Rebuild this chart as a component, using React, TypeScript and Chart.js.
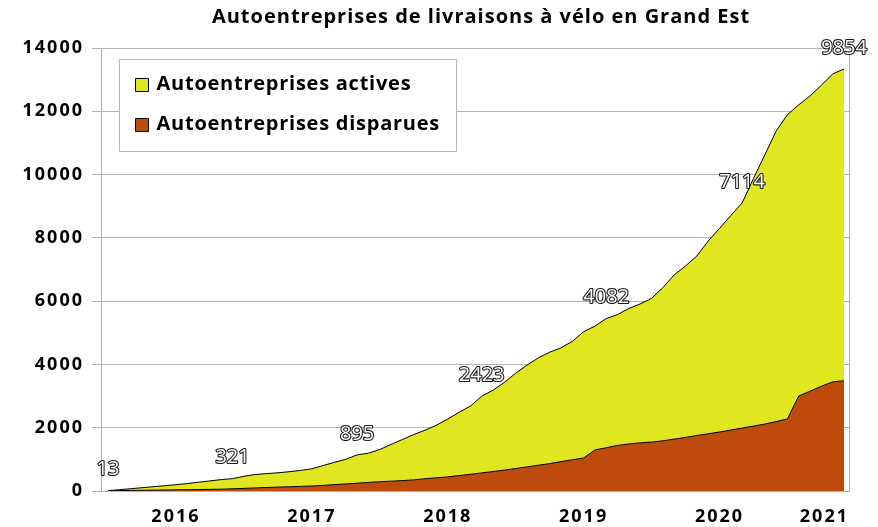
import React, { useEffect, useRef } from 'react';
import { Chart, registerables } from 'chart.js';

Chart.register(...registerables);

const chartTitle = 'Autoentreprises de livraisons à vélo en Grand Est';
const seriesActives = 'Autoentreprises actives';
const seriesDisparues = 'Autoentreprises disparues';

const months = [
  '2015-07', '2015-08', '2015-09', '2015-10', '2015-11', '2015-12',
  '2016-01', '2016-02', '2016-03', '2016-04', '2016-05', '2016-06', '2016-07', '2016-08', '2016-09', '2016-10', '2016-11', '2016-12',
  '2017-01', '2017-02', '2017-03', '2017-04', '2017-05', '2017-06', '2017-07', '2017-08', '2017-09', '2017-10', '2017-11', '2017-12',
  '2018-01', '2018-02', '2018-03', '2018-04', '2018-05', '2018-06', '2018-07', '2018-08', '2018-09', '2018-10', '2018-11', '2018-12',
  '2019-01', '2019-02', '2019-03', '2019-04', '2019-05', '2019-06', '2019-07', '2019-08', '2019-09', '2019-10', '2019-11', '2019-12',
  '2020-01', '2020-02', '2020-03', '2020-04', '2020-05', '2020-06', '2020-07', '2020-08', '2020-09', '2020-10', '2020-11', '2020-12',
];

const disparues = [
  0, 13, 19, 22, 28, 32,
  38, 41, 44, 51, 57, 70, 82, 98, 111, 123, 133, 145,
  158, 177, 202, 224, 246, 272, 294, 310, 329, 351, 389, 417,
  446, 487, 528, 572, 616, 660, 711, 762, 815, 866, 929, 986,
  1043, 1296, 1368, 1441, 1488, 1523, 1545, 1586, 1640, 1694, 1754, 1808,
  1864, 1928, 1988, 2051, 2117, 2193, 2275, 3002, 3154, 3312, 3448, 3485,
];

const actives = [
  13, 28, 54, 82, 108, 135,
  161, 196, 234, 268, 303, 321, 383, 423, 439, 452, 477, 506,
  544, 629, 705, 778, 895, 922, 1017, 1163, 1298, 1434, 1532, 1662,
  1826, 2000, 2155, 2423, 2569, 2772, 3011, 3216, 3391, 3520, 3596, 3741,
  3991, 3915, 4082, 4136, 4282, 4389, 4541, 4841, 5189, 5416, 5672, 6092,
  6431, 6778, 7114, 7824, 8501, 9180, 9616, 9202, 9331, 9511, 9732, 9854,
];

const yearLabels = ['2016', '2017', '2018', '2019', '2020', '2021'];
const labelledMonths = ['2015-07', '2016-06', '2017-05', '2018-04', '2019-03', '2020-03', '2020-12'];

const yTicks = [0, 2000, 4000, 6000, 8000, 10000, 12000, 14000];

const YELLOW = '#e0e620';
const ORANGE = '#be4a0b';
const GRID = '#b3b3b3';
const FONT = '"Open Sans", "Noto Sans", sans-serif';

const X_MIN = -0.62;
const X_MAX = 65.44;

export default function App() {
  const ref = useRef<HTMLCanvasElement>(null);

  useEffect(() => {
    const canvas = ref.current;
    if (!canvas) return;

    const xTickLabels = ['', ...yearLabels];

    const overlay = {
      id: 'overlay',
      beforeDraw(chart: any) {
        (chart.ctx as any).letterSpacing = '2px';
      },
      afterDraw(chart: any) {
        const ctx = chart.ctx as any;
        const area = chart.chartArea;
        ctx.save();

        // title
        ctx.letterSpacing = '1px';
        ctx.font = `bold 20px ${FONT}`;
        ctx.fillStyle = '#000';
        ctx.textAlign = 'center';
        ctx.textBaseline = 'middle';
        ctx.fillText(chartTitle, (area.left + area.right) / 2 + 6, 17);

        // value labels (actives)
        ctx.letterSpacing = '0px';
        const meta = chart.getDatasetMeta(1);
        ctx.font = `20px ${FONT}`;
        ctx.lineJoin = 'round';
        labelledMonths.forEach((m) => {
          const i = months.indexOf(m);
          const pt = meta.data[i];
          if (!pt) return;
          const txt = String(actives[i]);
          const x = pt.x;
          const y = pt.y - 21;
          ctx.lineWidth = 2.2;
          ctx.strokeStyle = '#1a1a1a';
          ctx.strokeText(txt, x, y);
          ctx.fillStyle = '#ffffff';
          ctx.fillText(txt, x, y);
        });

        // legend
        const bx = Math.round(area.left + 18) + 0.5;
        const by = Math.round(area.top + 11) + 0.5;
        const bw = 337;
        const bh = 92;
        ctx.fillStyle = '#ffffff';
        ctx.fillRect(bx, by, bw, bh);
        ctx.strokeStyle = GRID;
        ctx.lineWidth = 1;
        ctx.strokeRect(bx, by, bw, bh);

        const items = [
          { label: seriesActives, color: YELLOW },
          { label: seriesDisparues, color: ORANGE },
        ];
        ctx.letterSpacing = '0.75px';
        ctx.font = `bold 20px ${FONT}`;
        ctx.textAlign = 'left';
        ctx.textBaseline = 'middle';
        items.forEach((it, k) => {
          const cy = by + 25 + k * 40;
          ctx.fillStyle = it.color;
          ctx.fillRect(bx + 16, cy - 6, 13, 13);
          ctx.strokeStyle = '#000';
          ctx.strokeRect(bx + 16, cy - 6, 13, 13);
          ctx.fillStyle = '#000';
          ctx.fillText(it.label, bx + 37, cy);
        });
        ctx.restore();
      },
    };

    const chart = new Chart(canvas, {
      type: 'line',
      data: {
        datasets: [
          {
            label: seriesDisparues,
            data: disparues.map((v, i) => ({ x: i, y: v })),
            fill: 'origin',
            backgroundColor: ORANGE,
            borderColor: '#000',
            borderWidth: 1,
            pointRadius: 0,
            tension: 0,
          },
          {
            label: seriesActives,
            data: actives.map((v, i) => ({ x: i, y: v })),
            fill: '-1',
            backgroundColor: YELLOW,
            borderColor: '#000',
            borderWidth: 1,
            pointRadius: 0,
            tension: 0,
          },
        ],
      },
      options: {
        responsive: false,
        animation: false,
        layout: { padding: { top: 48, right: 29, left: 0, bottom: 0 } },
        plugins: {
          legend: { display: false },
          title: { display: false },
          tooltip: { enabled: false },
        },
        scales: {
          x: {
            type: 'linear',
            min: X_MIN,
            max: X_MAX,
            bounds: 'data',
            afterBuildTicks: (scale: any) => {
              const ticks = [{ value: X_MIN }];
              yearLabels.forEach((y) => {
                const idx = months.indexOf(`${y}-01`);
                ticks.push({ value: idx >= 0 ? idx : X_MAX });
              });
              scale.ticks = ticks;
            },
            afterFit: (scale: any) => {
              scale.height = 36;
            },
            grid: {
              color: (c: any) => (c.tick && c.tick.value === X_MAX ? GRID : 'rgba(0,0,0,0)'),
              drawTicks: false,
            },
            border: { color: GRID },
            ticks: {
              align: 'inner',
              autoSkip: false,
              maxRotation: 0,
              padding: 15,
              color: '#000',
              font: { family: FONT, size: 18, weight: 'bold' },
              callback: (_v: any, i: number) => xTickLabels[i],
            },
          },
          y: {
            stacked: true,
            min: 0,
            max: 14000,
            afterBuildTicks: (scale: any) => {
              scale.ticks = yTicks.map((v) => ({ value: v }));
            },
            afterFit: (scale: any) => {
              scale.width = 101;
            },
            grid: { color: GRID, tickLength: 9 },
            border: { color: GRID },
            ticks: {
              padding: 8,
              color: '#000',
              font: { family: FONT, size: 18, weight: 'bold' },
              callback: (v: any) => String(v),
            },
          },
        },
      } as any,
      plugins: [overlay],
    });

    return () => chart.destroy();
  }, []);

  return (
    <div style={{ position: 'fixed', left: 0, top: 0, width: 878, height: 527, background: '#fff' }}>
      <canvas ref={ref} width={878} height={527} style={{ display: 'block' }} />
    </div>
  );
}
